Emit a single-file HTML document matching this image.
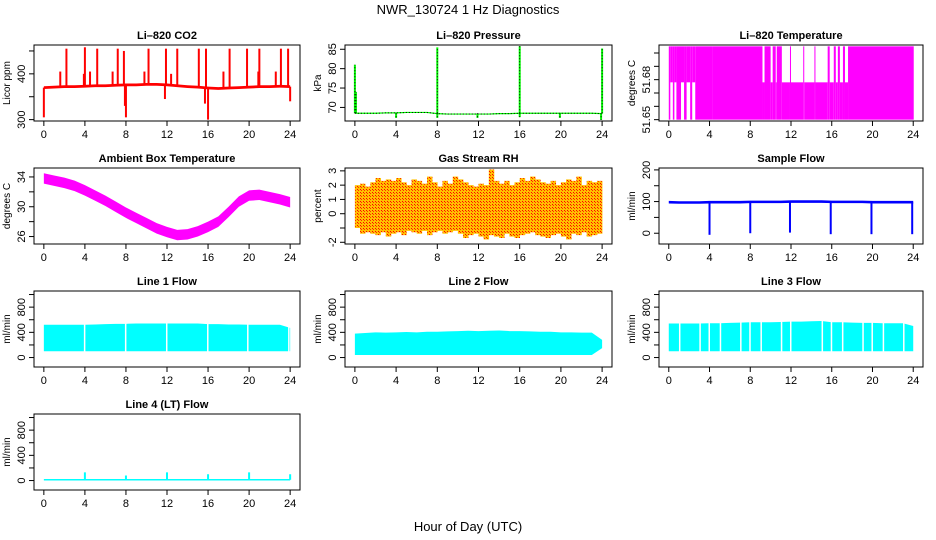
<!DOCTYPE html>
<html><head><meta charset="utf-8"><style>
html,body{margin:0;padding:0;background:#fff;}
svg{display:block;font-family:"Liberation Sans",Arial,sans-serif;}
</style></head><body>
<svg id="chart" width="936" height="540" viewBox="0 0 936 540" xmlns="http://www.w3.org/2000/svg">
<rect width="936" height="540" fill="#fff"/>
<text x="468" y="14" text-anchor="middle" font-size="13">NWR_130724  1 Hz Diagnostics</text>
<text x="468" y="531" text-anchor="middle" font-size="13">Hour of Day (UTC)</text>
</svg>
<script>
// ---- data ----
const xTicks = [0,4,8,12,16,20,24];
const hours = [0,1,2,3,4,5,6,7,8,9,10,11,12,13,14,15,16,17,18,19,20,21,22,23,24];
const co2Base = [370,371,372,372,373,374,374,375,376,376,377,377,376,374,372,371,369,368,369,370,371,372,372,373,372];
const co2SpikeT = [0.0,1.6,2.2,3.9,4.0,4.5,5.2,6.7,7.2,7.8,7.9,8.0,9.8,10.2,11.8,11.9,12.4,13.0,15.1,15.7,15.8,16.0,17.5,18.1,19.8,20.9,21.0,22.6,23.1,23.8,24.0];
const co2SpikeV = [305,405,455,400,458,405,455,405,455,450,330,305,405,455,345,455,400,455,455,335,455,300,405,455,455,405,455,405,455,455,340];
const presBase = [68.5,68.5,68.5,68.6,68.6,68.7,68.7,68.7,68.4,68.3,68.3,68.3,68.3,68.3,68.4,68.4,68.5,68.5,68.5,68.5,68.5,68.5,68.5,68.5,68.4];
const presSpikeT = [0.0,0.1,4.0,8.0,8.0,11.9,16.0,16.0,19.9,24.0,23.9];
const presSpikeV = [81,74,67.3,85.5,67.3,67.3,85.8,67.5,67.3,85.2,66.8];
const tempSegStart = [0.0,0.15,0.4,0.55,0.75,1.2,1.5,1.75,2.1,2.3,2.6,4.3,9.2,9.4,10.0,10.2,10.5,10.6,11.1,11.9,12.0,13.2,13.3,14.3,14.4,15.6,15.8,16.2,16.4,16.6,16.8,17.1,17.3,17.6];
const tempSegEnd   = [0.15,0.4,0.55,0.75,1.2,1.5,1.75,2.1,2.3,2.6,4.3,9.2,9.4,10.0,10.2,10.5,10.6,11.1,11.9,12.0,13.2,13.3,14.3,14.4,15.6,15.8,16.2,16.4,16.6,16.8,17.1,17.3,17.6,24.05];
const tempLow  = [51.650,51.678,51.650,51.678,51.650,51.678,51.650,51.678,51.650,51.678,51.650,51.650,51.650,51.650,51.650,51.650,51.650,51.650,51.650,51.650,51.650,51.650,51.650,51.650,51.650,51.650,51.650,51.650,51.650,51.650,51.650,51.650,51.650,51.650];
const tempHigh = [51.705,51.705,51.705,51.705,51.705,51.705,51.705,51.705,51.705,51.705,51.705,51.705,51.678,51.705,51.678,51.705,51.678,51.705,51.678,51.705,51.678,51.705,51.678,51.705,51.678,51.705,51.678,51.705,51.678,51.705,51.678,51.705,51.678,51.705];
const ambMid = [33.8,33.5,33.2,32.8,32.2,31.5,30.8,30.0,29.2,28.5,27.8,27.1,26.6,26.2,26.3,26.7,27.3,28.0,29.3,30.7,31.5,31.6,31.3,31.0,30.6];
const halfHours = [0,0.5,1,1.5,2,2.5,3,3.5,4,4.5,5,5.5,6,6.5,7,7.5,8,8.5,9,9.5,10,10.5,11,11.5,12,12.5,13,13.5,14,14.5,15,15.5,16,16.5,17,17.5,18,18.5,19,19.5,20,20.5,21,21.5,22,22.5,23,23.5,24];
const rhHigh = [2.0,2.1,1.9,2.2,2.5,2.3,2.4,2.3,2.5,2.2,2.0,2.4,2.3,2.1,2.6,2.2,1.9,2.3,2.1,2.6,2.4,2.2,2.0,1.9,2.1,2.0,3.1,2.3,2.1,2.3,2.0,2.2,2.5,2.3,2.6,2.4,2.2,2.1,2.3,2.0,2.2,2.4,2.3,2.6,2.0,2.3,2.2,2.3,1.2];
const rhLow = [-1.0,-1.4,-1.3,-1.4,-1.5,-1.3,-1.6,-1.4,-1.3,-1.5,-1.2,-1.3,-1.4,-1.2,-1.5,-1.3,-1.2,-1.4,-1.3,-1.2,-1.4,-1.7,-1.5,-1.4,-1.6,-1.8,-1.5,-1.6,-1.7,-1.4,-1.6,-1.7,-1.5,-1.4,-1.3,-1.5,-1.6,-1.7,-1.5,-1.4,-1.6,-1.8,-1.4,-1.5,-1.3,-1.6,-1.5,-1.4,0];
const sampleBase = [98,97,97,97,98,98,98,98,99,99,99,99,100,100,100,100,99,99,99,99,98,98,98,98,98];
const sampleDipT = [4.0,8.0,11.9,15.9,19.9,23.9];
const sampleDipV = [-5,0,2,-3,-3,-3];
const line1High = [520,520,520,520,520,525,530,535,535,540,540,540,540,540,540,540,530,530,525,525,520,520,520,520,470];
const line1Low = [100,100,100,100,100,100,100,100,100,100,100,100,100,100,100,100,100,100,100,100,100,100,100,100,100];
const line1Gaps = [3.9,7.9,11.9,15.9,19.8,23.8];
const line2High = [380,390,400,395,400,405,400,410,410,415,420,425,420,425,430,420,420,415,410,410,400,400,395,395,280];
const line2Low = [40,40,40,40,40,40,40,40,40,40,40,40,40,40,40,40,40,40,40,40,40,40,40,40,150];
const line2Gaps = [];
const line3High = [540,540,540,540,545,545,550,555,560,560,560,565,570,570,575,580,560,560,555,550,550,545,545,545,500];
const line3Low = [100,100,100,100,100,100,100,100,100,100,100,100,100,100,100,100,100,100,100,100,100,100,100,100,100];
const line3Gaps = [1.0,3.0,3.9,5.0,7.0,7.9,9.0,11.0,11.9,15.0,15.9,17.0,19.0,19.9,21.0,23.0];
const line4Base = [12,12,12,12,12,12,12,12,12,12,12,12,12,12,12,12,12,12,12,12,12,12,12,12,12];
const line4SpikeT = [4.0,8.0,12.0,16.0,20.0,24.0];
const line4SpikeV = [130,80,130,100,130,100];

// ---- layout ----
const NS="http://www.w3.org/2000/svg";
const svg=document.getElementById('chart');
const colL=[34,345,659], colR=[300,612,923], rowT=[45,168,291,414], PH=76;
function el(tag,attrs,parent){const e=document.createElementNS(NS,tag);for(const k in attrs)e.setAttribute(k,attrs[k]);(parent||svg).appendChild(e);return e;}

function panel(col,row,name,title,ylab,ylim,yt,ylabs){
  const L=colL[col],R=colR[col],T=rowT[row],B=T+PH;
  const g=el('g',{});
  
  
  const xs=v=>L+(v+0.96)/25.92*(R-L);
  const ys=v=>B-(v-ylim[0])/(ylim[1]-ylim[0])*(B-T);
  const plot=el('g',{},g);
  
  
  const frame=el('rect',{x:L,y:T,width:R-L,height:PH,fill:'none',stroke:'#000','stroke-width':1},g);
  
  
  const t=el('text',{x:(L+R)/2,y:T-6,'text-anchor':'middle','font-size':11,'font-weight':'bold'},g);
  t.textContent=title;
  
  
  const xa=el('g',{},g);
  
  
  el('line',{x1:xs(0),x2:xs(24),y1:B,y2:B,stroke:'#000'},xa);
  xTicks.forEach(v=>{el('line',{x1:xs(v),x2:xs(v),y1:B,y2:B+5,stroke:'#000'},xa);
    const tx=el('text',{x:xs(v),y:B+17,'text-anchor':'middle','font-size':11},xa);tx.textContent=v;});
  const ya=el('g',{},g);
  
  
  el('line',{x1:L,x2:L,y1:ys(yt[0]),y2:ys(yt[yt.length-1]),stroke:'#000'},ya);
  yt.forEach((v,i)=>{el('line',{x1:L-5,x2:L,y1:ys(v),y2:ys(v),stroke:'#000'},ya);
    if(ylabs[i]!==''){const tx=el('text',{x:L-9,y:ys(v),'text-anchor':'middle','font-size':11,transform:`rotate(-90 ${L-9} ${ys(v)})`},ya);tx.textContent=ylabs[i];}});
  const yl=el('text',{x:L-24,y:(T+B)/2,'text-anchor':'middle','font-size':10,transform:`rotate(-90 ${L-24} ${(T+B)/2})`},g);
  yl.textContent=ylab;
  
  
  return {xs,ys,plot};
}
function band(p,xsArr,lo,hi,fill){
  const up=xsArr.map((x,i)=>p.xs(x)+','+p.ys(hi[i]));
  const dn=xsArr.map((x,i)=>p.xs(x)+','+p.ys(lo[i])).reverse();
  el('polygon',{points:up.concat(dn).join(' '),fill:fill},p.plot);
}
function spikes(p,ts,vs,base,color,w){
  ts.forEach((t,i)=>{const b=base[Math.min(24,Math.round(t))];
    el('line',{x1:p.xs(t),x2:p.xs(t),y1:p.ys(b),y2:p.ys(vs[i]),stroke:color,'stroke-width':w},p.plot);});
}

// CO2
let p=panel(0,0,'co2','Li\u2013820 CO2','Licor ppm',[297,463],[300,350,400,450],['300','','400','']);
band(p,hours,co2Base.map(v=>v-3),co2Base.map(v=>v+3),'#ff0000');
spikes(p,co2SpikeT,co2SpikeV,co2Base,'#ff0000',2);

// Pressure
p=panel(1,0,'pressure','Li\u2013820 Pressure','kPa',[66.5,86.1],[70,75,80,85],['70','75','80','85']);
band(p,hours,presBase.map(v=>v-0.15),presBase.map(v=>v+0.15),'#00ff00');
el('polyline',{points:hours.map((h,i)=>p.xs(h)+','+p.ys(presBase[i])).join(' '),fill:'none',stroke:'#000','stroke-dasharray':'1 2'},p.plot);
spikes(p,presSpikeT,presSpikeV,presBase,'#00ff00',2);
presSpikeT.forEach((t,i)=>{el('line',{x1:p.xs(t),x2:p.xs(t),y1:p.ys(68.5),y2:p.ys(presSpikeV[i]),stroke:'#000','stroke-dasharray':'1 2'},p.plot);});

// Temperature
p=panel(2,0,'li820-temperature','Li\u2013820 Temperature','degrees C',[51.649,51.706],[51.65,51.66,51.67,51.68,51.69,51.70],['51.65','','','51.68','','']);
tempSegStart.forEach((s,i)=>{el('rect',{x:p.xs(s),y:p.ys(tempHigh[i]),width:p.xs(tempSegEnd[i])-p.xs(s),height:p.ys(tempLow[i])-p.ys(tempHigh[i]),fill:'#ff00ff'},p.plot);});

// Ambient
p=panel(0,1,'ambient-temperature','Ambient Box Temperature','degrees C',[25,35.2],[26,28,30,32,34],['26','','30','','34']);
band(p,hours,ambMid.map(v=>v-0.7),ambMid.map(v=>v+0.7),'#ff00ff');

// RH
p=panel(1,1,'gas-stream-rh','Gas Stream RH','percent',[-2.12,3.2],[-2,-1,0,1,2,3],['-2','','0','1','2','3']);
const defs=el('defs',{});
const pat=el('pattern',{id:'rhp',width:3,height:3,patternUnits:'userSpaceOnUse'},defs);
el('rect',{width:3,height:3,fill:'#ffc000'},pat);
el('rect',{width:1,height:1,fill:'#ff0000'},pat);
el('rect',{x:1,y:1,width:1,height:1,fill:'#ff3000'},pat);
for(let i=0;i<halfHours.length-1;i++){
  const x1=p.xs(halfHours[i]),x2=p.xs(halfHours[i+1]);
  el('rect',{x:x1,y:p.ys(rhHigh[i]),width:x2-x1+0.3,height:p.ys(rhLow[i])-p.ys(rhHigh[i]),fill:'url(#rhp)'},p.plot);
}

// Sample flow
p=panel(2,1,'sample-flow','Sample Flow','ml/min',[-34,206],[0,50,100,150,200],['0','','100','','200']);
band(p,hours,sampleBase.map(v=>v-4),sampleBase.map(v=>v+4),'#0000ff');
spikes(p,sampleDipT,sampleDipV,sampleBase,'#0000ff',2);

// Line flows
const lt=[0,200,400,600,800,1000], ll=['0','','400','','800',''];
function flow(col,row,name,title,hi,lo,gaps){
  const q=panel(col,row,name,title,'ml/min',[-150,1056],lt,ll);
  band(q,hours,lo,hi,'#00ffff');
  gaps.forEach(g=>{el('rect',{x:q.xs(g),y:q.ys(700),width:1.5,height:q.ys(0)-q.ys(700),fill:'#fff'},q.plot);});
}
flow(0,2,'line-1-flow','Line 1 Flow',line1High,line1Low,line1Gaps);
flow(1,2,'line-2-flow','Line 2 Flow',line2High,line2Low,line2Gaps);
flow(2,2,'line-3-flow','Line 3 Flow',line3High,line3Low,line3Gaps);
p=panel(0,3,'line-4-flow','Line 4 (LT) Flow','ml/min',[-150,1056],lt,ll);
band(p,hours,line4Base.map(v=>v-12),line4Base.map(v=>v+12),'#00ffff');
spikes(p,line4SpikeT,line4SpikeV,line4Base,'#00ffff',2);
</script>
</body></html>
